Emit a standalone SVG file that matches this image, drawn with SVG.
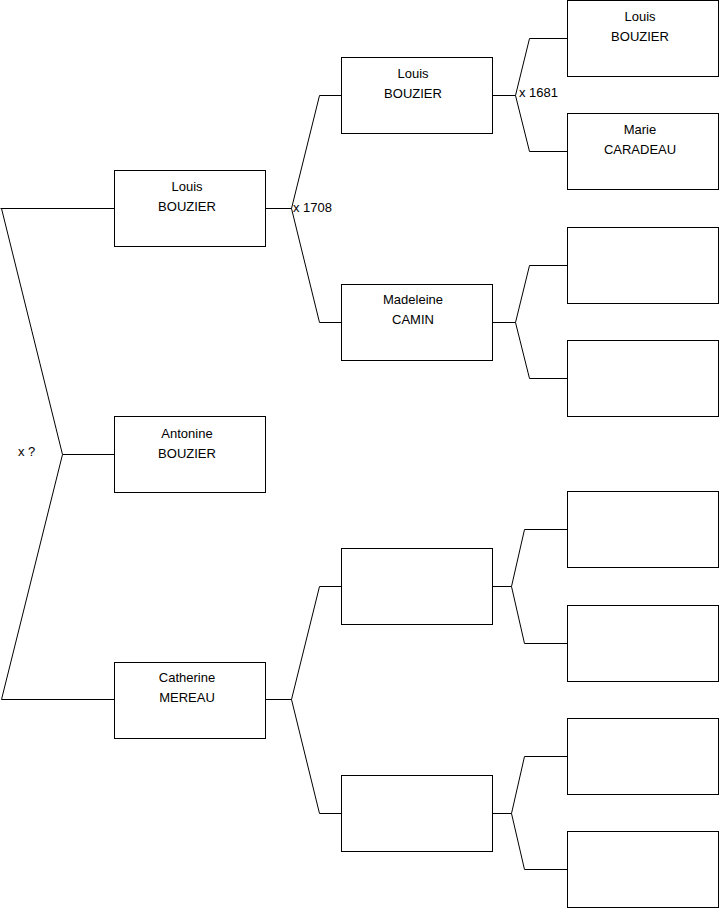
<svg xmlns="http://www.w3.org/2000/svg" width="719" height="908" viewBox="0 0 719 908">
<style>
.b{fill:#fff;stroke:#000;stroke-width:1}
.c{fill:none;stroke:#000;stroke-width:1}
text{font-family:"Liberation Sans",Arial,sans-serif;font-size:13px;fill:#000}
.m{text-anchor:middle}
</style>
<rect width="719" height="908" fill="#fff"/>
<g id="connectors">
<path class="c" d="M0.5,208.5H114.5M1.5,208.5L62.5,454.5L1.5,699.5H114.5M62.5,454.5H114.5"/>
<path class="c" d="M265.5,208.5H291.5M319.5,95.5L291.5,208.5L319.5,322.5M319.5,95.5H341.5M319.5,322.5H341.5"/>
<path class="c" d="M265.5,699.5H291.5M319.5,586.5L291.5,699.5L319.5,813.5M319.5,586.5H341.5M319.5,813.5H341.5"/>
<path class="c" d="M492.5,95.5H515.5M529.5,38.5L515.5,95.5L529.5,151.5M529.5,38.5H567.5M529.5,151.5H567.5"/>
<path class="c" d="M492.5,322.5H515.5M529.5,265.5L515.5,322.5L529.5,378.5M529.5,265.5H567.5M529.5,378.5H567.5"/>
<path class="c" d="M492.5,586.5H511.5M524.5,529.5L511.5,586.5L524.5,643.5M524.5,529.5H567.5M524.5,643.5H567.5"/>
<path class="c" d="M492.5,813.5H511.5M524.5,756.5L511.5,813.5L524.5,869.5M524.5,756.5H567.5M524.5,869.5H567.5"/>
<text x="18" y="456">x ?</text>
<text x="293" y="212">x 1708</text>
<text x="519" y="97">x 1681</text>
</g>
<g id="n1"><rect class="b" x="114.5" y="170.5" width="151" height="76"/><text class="m" x="187" y="191">Louis</text><text class="m" x="187" y="211">BOUZIER</text></g>
<g id="n2"><rect class="b" x="114.5" y="416.5" width="151" height="76"/><text class="m" x="187" y="438">Antonine</text><text class="m" x="187" y="458">BOUZIER</text></g>
<g id="n3"><rect class="b" x="114.5" y="662.5" width="151" height="76"/><text class="m" x="187" y="682">Catherine</text><text class="m" x="187" y="702">MEREAU</text></g>
<g id="n4"><rect class="b" x="341.5" y="57.5" width="151" height="76"/><text class="m" x="413" y="78">Louis</text><text class="m" x="413" y="98">BOUZIER</text></g>
<g id="n5"><rect class="b" x="341.5" y="284.5" width="151" height="76"/><text class="m" x="413" y="304">Madeleine</text><text class="m" x="413" y="324">CAMIN</text></g>
<g id="n6"><rect class="b" x="341.5" y="548.5" width="151" height="76"/></g>
<g id="n7"><rect class="b" x="341.5" y="775.5" width="151" height="76"/></g>
<g id="n8"><rect class="b" x="567.5" y="0.5" width="151" height="76"/><text class="m" x="640" y="21">Louis</text><text class="m" x="640" y="41">BOUZIER</text></g>
<g id="n9"><rect class="b" x="567.5" y="113.5" width="151" height="76"/><text class="m" x="640" y="134">Marie</text><text class="m" x="640" y="154">CARADEAU</text></g>
<g id="n10"><rect class="b" x="567.5" y="227.5" width="151" height="76"/></g>
<g id="n11"><rect class="b" x="567.5" y="340.5" width="151" height="76"/></g>
<g id="n12"><rect class="b" x="567.5" y="491.5" width="151" height="76"/></g>
<g id="n13"><rect class="b" x="567.5" y="605.5" width="151" height="76"/></g>
<g id="n14"><rect class="b" x="567.5" y="718.5" width="151" height="76"/></g>
<g id="n15"><rect class="b" x="567.5" y="831.5" width="151" height="76"/></g>
</svg>
